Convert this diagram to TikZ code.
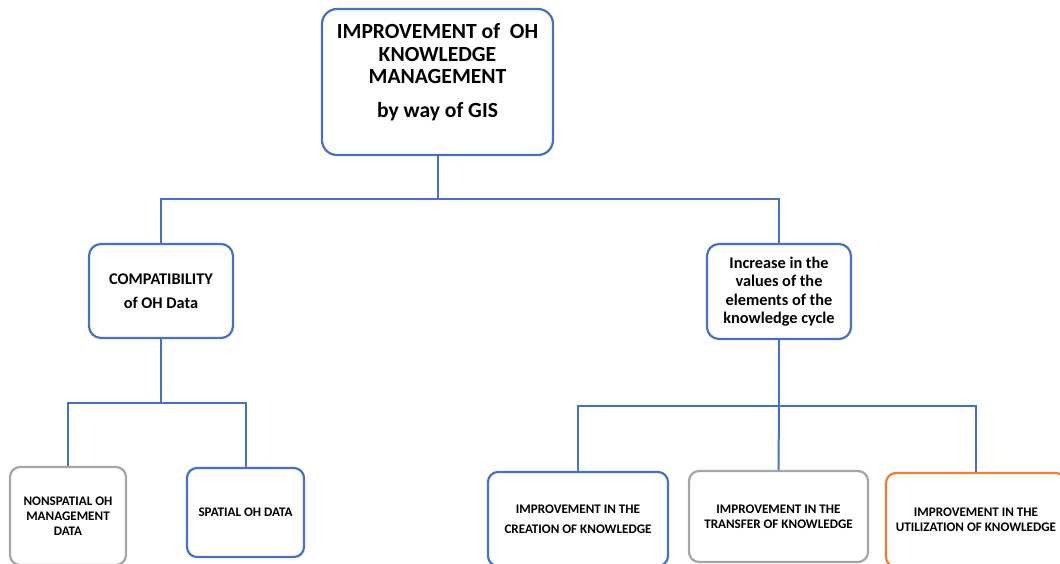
\documentclass[tikz,border=0pt]{standalone}
\usepackage{fontspec}
\setmainfont{Carlito}
\definecolor{lineblue}{HTML}{4472C4}
\definecolor{boxgray}{HTML}{A5A5A5}
\definecolor{boxorange}{HTML}{ED7D31}
\begin{document}
\begin{tikzpicture}[x=1pt,y=-1pt,
  box/.style={draw=lineblue, line width=2.2pt, fill=white, inner sep=0pt,
              align=center, text=black},
  bigbox/.style={box, rounded corners=15pt},
  midbox/.style={box, rounded corners=12pt,
                 font={\fontsize{16.3}{18.5}\selectfont\bfseries}},
  lowbox/.style={box, rounded corners=10pt,
                 font={\fontsize{13.1}{15}\selectfont\bfseries}},
  graybox/.style={lowbox, draw=boxgray},
  orangebox/.style={lowbox, draw=boxorange},
  wire/.style={draw=lineblue, line width=2pt}]

\useasboundingbox (0,0) rectangle (1060,563);
\clip (0,0) rectangle (1060,563);

% root
\node[bigbox, minimum width=231pt, minimum height=146pt] (top) at (437.5,82) {};
\node[inner sep=0pt, align=center, anchor=north,
      font={\fontsize{21.6}{22.8}\selectfont\bfseries}] (toptext) at (437.5,23)
  {IMPROVEMENT of~~OH\\KNOWLEDGE\\MANAGEMENT\\[11pt]by way of GIS};

% second level
\node[midbox, minimum width=144pt, minimum height=94pt] (compat) at (161,291)
  {COMPATIBILITY\\[6pt]of OH Data};
\node[midbox, minimum width=144pt, minimum height=95pt] (incr) at (779,291.5)
  {Increase in the\\values of the\\elements of the\\knowledge cycle};

% third level, left
\node[graybox, minimum width=116pt, minimum height=98pt] (nonsp) at (68,516)
  {NONSPATIAL OH\\MANAGEMENT\\DATA};
\node[lowbox, minimum width=117pt, minimum height=89pt] (spat) at (245.5,512.5)
  {SPATIAL OH DATA};

% third level, right
\node[lowbox, minimum width=180pt, minimum height=94pt] (create) at (578,519)
  {IMPROVEMENT IN THE\\[5pt]CREATION OF KNOWLEDGE};
\node[graybox, minimum width=179pt, minimum height=91pt] (transf) at (778.5,516.5)
  {IMPROVEMENT IN THE\\TRANSFER OF KNOWLEDGE};
\node[orangebox, minimum width=180pt, minimum height=94pt] (util) at (976,520)
  {IMPROVEMENT IN THE\\UTILIZATION OF KNOWLEDGE};

% junctions
\coordinate (j1) at (437.5,199);
\coordinate (j2) at (161,403);
\coordinate (j3) at (779,406);

% connectors
\draw[wire] (top.south) -- (j1);
\draw[wire] (j1) -| (compat.north);
\draw[wire] (j1) -| (incr.north);
\draw[wire] (compat.south) -- (j2);
\draw[wire] (j2) -| (nonsp.north);
\draw[wire] (j2) -| (spat.north);
\draw[wire] (incr.south) -- (j3);
\draw[wire] (j3) -| (create.north);
\draw[wire] (j3) -- (transf.north);
\draw[wire] (j3) -| (util.north);
\end{tikzpicture}
\end{document}
